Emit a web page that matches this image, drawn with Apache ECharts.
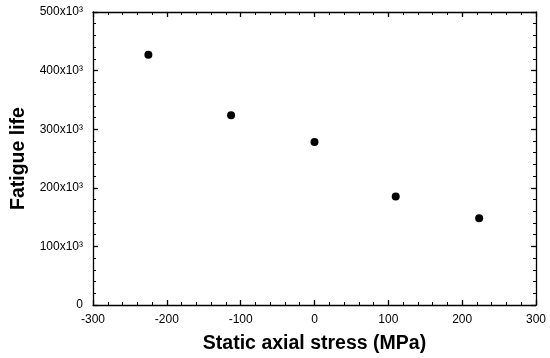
<!DOCTYPE html>
<html>
<head>
<meta charset="utf-8">
<script src="https://cdn.jsdelivr.net/npm/echarts@6/dist/echarts.min.js"></script>
<style>
  html, body { margin: 0; padding: 0; background: #fff; }
  #chart { width: 550px; height: 358px; }
</style>
</head>
<body>
<div id="chart"></div>
<script>
const stress = [-225, -113, 0, 110, 223];
const fatigueLife = [427000, 324000, 278000, 185000, 148000];

const chart = echarts.init(document.getElementById("chart"));

const yLabel = (v) => (v === 0 ? "0" : v / 1000 + "x10³");
const font = "Liberation Sans, Arial, sans-serif";
const lineStyle = { color: "#000", width: 1.3 };

const xBase = {
  type: "value",
  min: -300,
  max: 300,
  interval: 100,
  axisLine: { show: true, onZero: false, lineStyle },
  axisTick: { show: true, inside: true, length: 5, lineStyle },
  minorTick: { show: true, splitNumber: 5, length: 3, lineStyle: { color: "#000", width: 1 } },
  splitLine: { show: false },
};
const yBase = {
  type: "value",
  min: 0,
  max: 500000,
  interval: 100000,
  axisLine: { show: true, onZero: false, lineStyle },
  axisTick: { show: true, inside: true, length: 5, lineStyle },
  minorTick: { show: true, splitNumber: 5, length: 3, lineStyle: { color: "#000", width: 1 } },
  splitLine: { show: false },
};

chart.setOption({
  animation: false,
  backgroundColor: "#fff",
  grid: { left: 93, right: 14, top: 12, bottom: 53, outerBoundsMode: "none", containLabel: false },
  xAxis: [
    {
      ...xBase,
      position: "bottom",
      name: "Static axial stress (MPa)",
      nameLocation: "middle",
      nameGap: 29,
      nameTextStyle: { fontFamily: font, fontWeight: "bold", fontSize: 19.5, color: "#000" },
      axisLabel: { color: "#000", fontFamily: font, fontSize: 12, margin: 9 },
    },
    { ...xBase, position: "top", axisLabel: { show: false } },
  ],
  yAxis: [
    {
      ...yBase,
      position: "left",
      name: "Fatigue life",
      nameLocation: "middle",
      nameGap: 62,
      nameRotate: 90,
      nameTextStyle: { fontFamily: font, fontWeight: "bold", fontSize: 19.5, color: "#000" },
      axisLabel: { color: "#000", fontFamily: font, fontSize: 12, margin: 10, formatter: yLabel },
    },
    { ...yBase, position: "right", axisLabel: { show: false } },
  ],
  series: [
    {
      type: "scatter",
      symbol: "circle",
      symbolSize: 8,
      itemStyle: { color: "#000", opacity: 1 },
      data: stress.map((x, i) => [x, fatigueLife[i]]),
    },
  ],
});
</script>
</body>
</html>
